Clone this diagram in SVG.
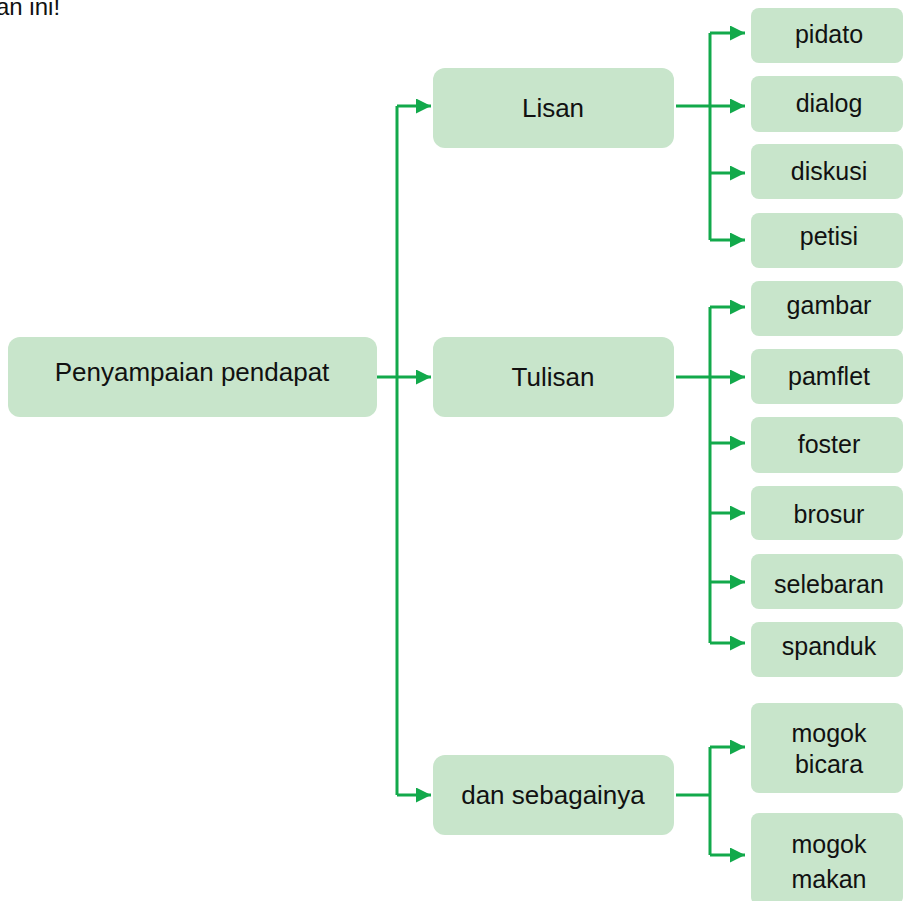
<svg xmlns="http://www.w3.org/2000/svg" width="904" height="901" viewBox="0 0 904 901">
<defs>
<style>
.box{fill:#c8e5cb}
.t{font-family:"Liberation Sans",Arial,sans-serif;fill:#111;text-anchor:middle}
.m{font-size:26px}
.c{font-size:25px}
.ln{fill:none;stroke:#12a94b;stroke-width:3}
</style>
<marker id="ah" viewBox="0 0 10 10" refX="10" refY="5" markerWidth="6.3" markerHeight="5" markerUnits="strokeWidth" orient="auto">
<path d="M0,0 L10,5 L0,10 z" fill="#12a94b"/>
</marker>
</defs>
<rect width="904" height="901" fill="#fff"/>
<text x="-4" y="15" font-family="Liberation Sans, Arial, sans-serif" font-size="24" fill="#111">an ini!</text>

<g id="connectors">
<path class="ln" d="M377,377 H431" marker-end="url(#ah)"/>
<path class="ln" d="M397,106 V795"/>
<path class="ln" d="M397,106 H431" marker-end="url(#ah)"/>
<path class="ln" d="M397,795 H431" marker-end="url(#ah)"/>

<path class="ln" d="M676,106 H745" marker-end="url(#ah)"/>
<path class="ln" d="M710,33 V240"/>
<path class="ln" d="M710,33 H745" marker-end="url(#ah)"/>
<path class="ln" d="M710,173 H745" marker-end="url(#ah)"/>
<path class="ln" d="M710,240 H745" marker-end="url(#ah)"/>

<path class="ln" d="M676,377 H745" marker-end="url(#ah)"/>
<path class="ln" d="M710,307 V643"/>
<path class="ln" d="M710,307 H745" marker-end="url(#ah)"/>
<path class="ln" d="M710,443 H745" marker-end="url(#ah)"/>
<path class="ln" d="M710,513 H745" marker-end="url(#ah)"/>
<path class="ln" d="M710,582 H745" marker-end="url(#ah)"/>
<path class="ln" d="M710,643 H745" marker-end="url(#ah)"/>

<path class="ln" d="M676,795 H710"/>
<path class="ln" d="M710,747 V855"/>
<path class="ln" d="M710,747 H745" marker-end="url(#ah)"/>
<path class="ln" d="M710,855 H745" marker-end="url(#ah)"/>
</g>

<g id="root"><rect class="box" x="8" y="337" width="369" height="80" rx="12"/><text class="t m" x="192" y="381" font-size="26.5">Penyampaian pendapat</text></g>
<g id="lisan"><rect class="box" x="433" y="68" width="241" height="80" rx="12"/><text class="t m" x="553" y="117">Lisan</text></g>
<g id="tulisan"><rect class="box" x="433" y="337" width="241" height="80" rx="12"/><text class="t m" x="553" y="386">Tulisan</text></g>
<g id="dan"><rect class="box" x="433" y="755" width="241" height="80" rx="12"/><text class="t m" x="553" y="804">dan sebagainya</text></g>

<g id="pidato"><rect class="box" x="751" y="8" width="152" height="55" rx="8"/><text class="t c" x="829" y="43">pidato</text></g>
<g id="dialog"><rect class="box" x="751" y="76" width="152" height="56" rx="8"/><text class="t c" x="829" y="112">dialog</text></g>
<g id="diskusi"><rect class="box" x="751" y="144" width="152" height="55" rx="8"/><text class="t c" x="829" y="180">diskusi</text></g>
<g id="petisi"><rect class="box" x="751" y="213" width="152" height="55" rx="8"/><text class="t c" x="829" y="245">petisi</text></g>
<g id="gambar"><rect class="box" x="751" y="281" width="152" height="55" rx="8"/><text class="t c" x="829" y="314">gambar</text></g>
<g id="pamflet"><rect class="box" x="751" y="349" width="152" height="55" rx="8"/><text class="t c" x="829" y="385">pamflet</text></g>
<g id="foster"><rect class="box" x="751" y="417" width="152" height="56" rx="8"/><text class="t c" x="829" y="453">foster</text></g>
<g id="brosur"><rect class="box" x="751" y="486" width="152" height="54" rx="8"/><text class="t c" x="829" y="523">brosur</text></g>
<g id="selebaran"><rect class="box" x="751" y="554" width="152" height="55" rx="8"/><text class="t c" x="829" y="593">selebaran</text></g>
<g id="spanduk"><rect class="box" x="751" y="622" width="152" height="55" rx="8"/><text class="t c" x="829" y="655">spanduk</text></g>
<g id="mogok-bicara"><rect class="box" x="751" y="703" width="152" height="90" rx="8"/><text class="t c" x="829" y="742">mogok</text><text class="t c" x="829" y="773">bicara</text></g>
<g id="mogok-makan"><rect class="box" x="751" y="813" width="152" height="92" rx="8"/><text class="t c" x="829" y="853">mogok</text><text class="t c" x="829" y="888">makan</text></g>
</svg>
